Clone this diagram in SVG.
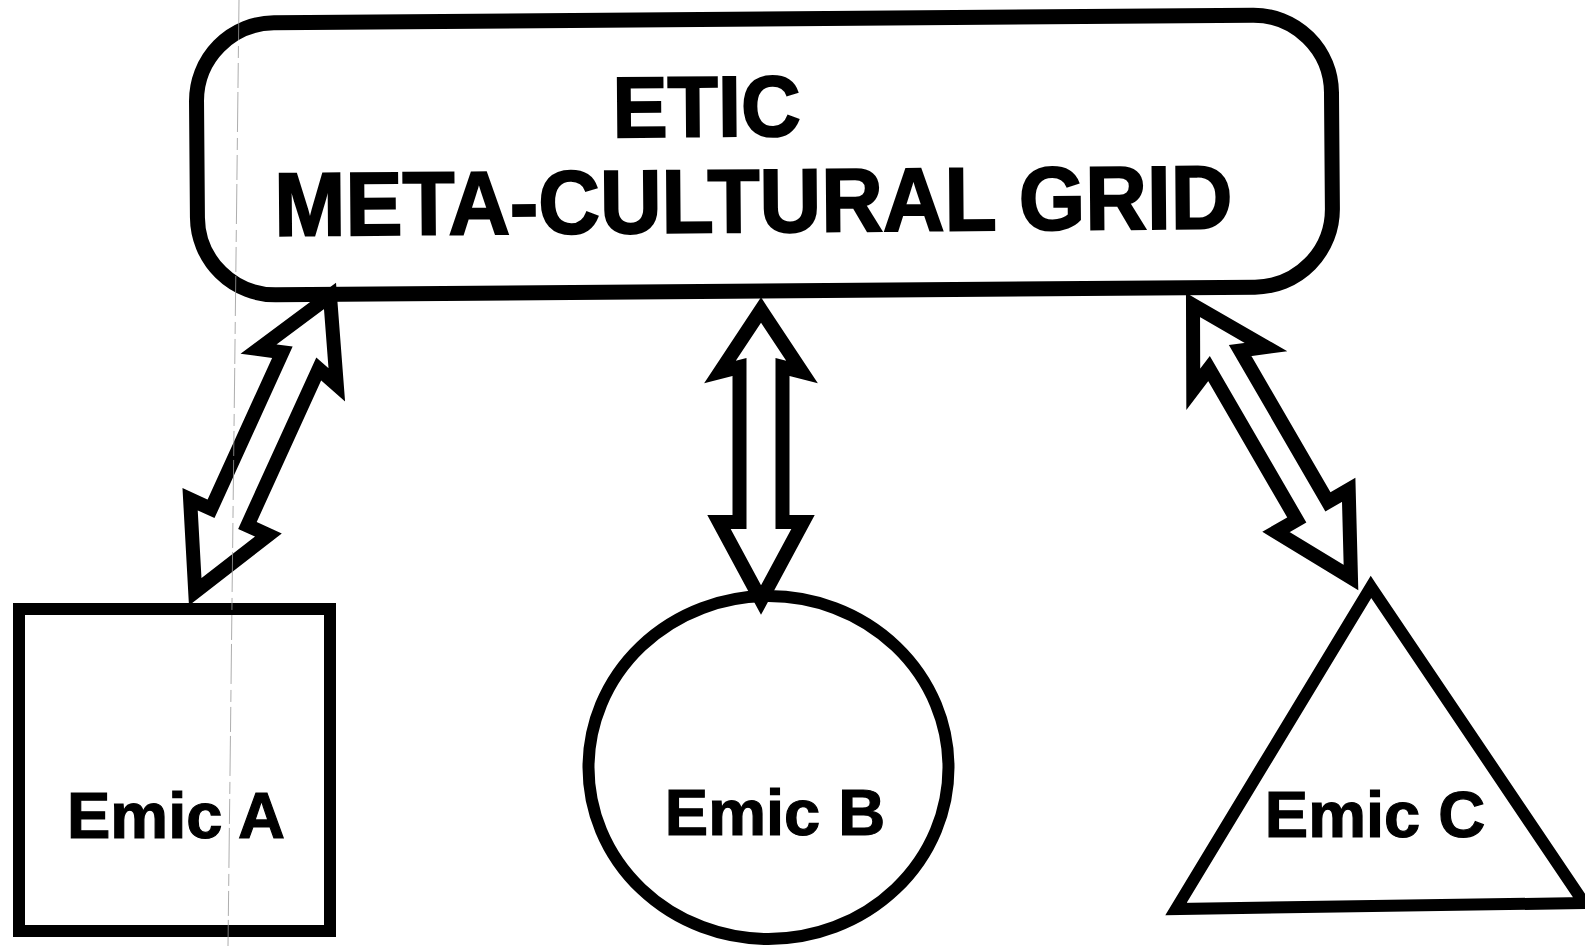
<svg xmlns="http://www.w3.org/2000/svg" width="1585" height="946" viewBox="0 0 1585 946">
  <style>
    .shape { fill: #ffffff; stroke: #000000; stroke-width: 12; stroke-linejoin: miter; stroke-miterlimit: 10; }
    .box { fill: #ffffff; stroke: #000000; stroke-width: 15; }
    .arrow { fill: #ffffff; stroke: #000000; stroke-width: 14; stroke-linejoin: miter; stroke-miterlimit: 10; }
    .title { font-family: "Liberation Sans", Arial, sans-serif; font-weight: bold; fill: #000000; stroke: #000000; stroke-width: 2; text-anchor: middle; }
    .label { font-family: "Liberation Sans", Arial, sans-serif; font-weight: bold; font-size: 65px; fill: #000000; stroke: #000000; stroke-width: 1.2; text-anchor: middle; }
  </style>
  <rect width="1585" height="946" fill="#ffffff"/>

  <g id="etic-grid" transform="rotate(-0.45 765 160)">
    <rect class="box" x="197" y="19" width="1135" height="272" rx="78" ry="78"/>
    <text class="title" x="707" y="136" font-size="86" textLength="188" lengthAdjust="spacingAndGlyphs">ETIC</text>
    <text class="title" x="753" y="232" font-size="90" textLength="958" lengthAdjust="spacingAndGlyphs">META-CULTURAL GRID</text>
  </g>

  <g id="emic-a">
    <rect class="shape" x="19" y="609" width="311" height="322"/>
    <text class="label" x="176" y="838">Emic A</text>
  </g>

  <g id="emic-b">
    <ellipse class="shape" cx="768.5" cy="767.5" rx="180" ry="171.5"/>
    <text class="label" x="775" y="835">Emic B</text>
  </g>

  <g id="emic-c">
    <polygon class="shape" points="1371,587 1584,903 1176,909"/>
    <text class="label" x="1375" y="837">Emic C</text>
  </g>

  <g id="connectors">
    <polygon class="arrow" transform="translate(330 296) rotate(24.5)" points="0,0 43,78 20,71 20,243 43,243 0,325 -43,243 -20,243 -20,71 -43,78"/>
    <polygon class="arrow" transform="translate(761 310)" points="0,0 41,62 21.5,57 21.5,212 42,212 0,290 -42,212 -21.5,212 -21.5,57 -41,62"/>
    <polygon class="arrow" transform="translate(1193 305) rotate(-30.1)" points="0,0 42,73 18,63 18,238 42,238 0,315 -42,238 -18,238 -18,63 -42,73"/>
  </g>

  <line id="scan-line" x1="239" y1="0" x2="228" y2="946" stroke="#9a9a9a" stroke-width="1" stroke-dasharray="40 6 12 5 25 4" opacity="0.8"/>
</svg>
